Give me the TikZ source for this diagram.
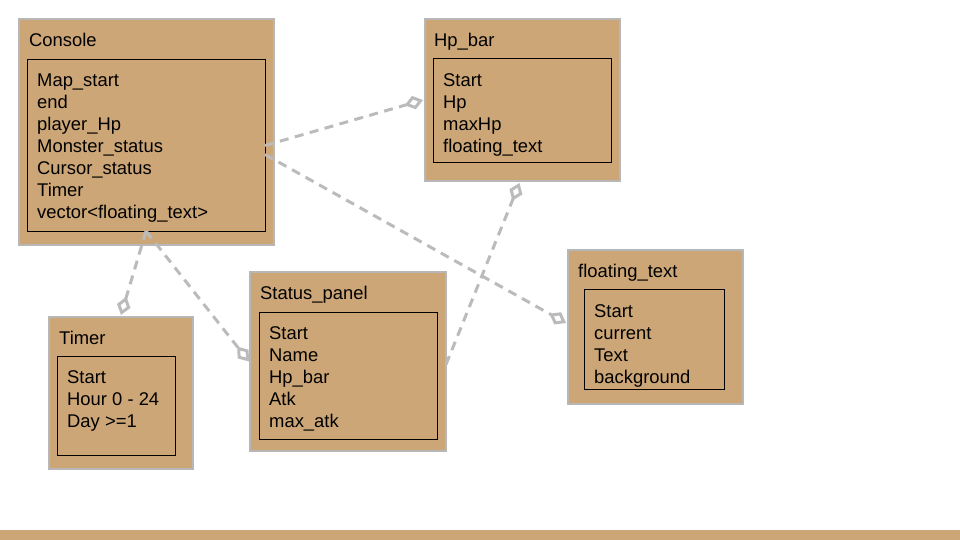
\documentclass[tikz,border=0pt]{standalone}
\usepackage{fontspec}
\setmainfont{Liberation Sans}
\usetikzlibrary{arrows.meta}
\definecolor{tan}{HTML}{CCA677}
\definecolor{bordergray}{HTML}{B7B7B7}
\definecolor{linkgray}{HTML}{BBBBBB}
\tikzset{
  outerbox/.style={draw=bordergray, line width=1.5pt, fill=tan, inner sep=0pt, outer sep=0pt},
  innerbox/.style={draw=black, line width=1pt, inner sep=0pt, outer sep=0pt},
  titletext/.style={anchor=base west, inner sep=0pt, font=\fontsize{18.4}{22}\selectfont},
  itemtext/.style={anchor=north west, inner sep=0pt, align=left, font=\fontsize{18.4}{22}\selectfont},
  link/.style={draw=linkgray, line width=3pt, dash pattern=on 9pt off 6.5pt,
    -{Diamond[open, length=19pt, width=14pt, line join=miter]}}
}
\begin{document}
\begin{tikzpicture}[x=1pt,y=-1pt]
\useasboundingbox (0,0) rectangle (960,540);
\fill[white] (0,0) rectangle (960,540);
\fill[tan] (0,529.5) rectangle (960,540);

% Console
\node[outerbox, minimum width=255pt, minimum height=226pt] (console) at (146.5,132) {};
\node[innerbox, minimum width=238pt, minimum height=171pt] (consoleIn) at (146,145.5) {};
\node[titletext] (consoleT) at (29,46.5) {Console};
\node[itemtext] (consoleL) at (37,71.1) {\strut Map\_start\\end\\player\_Hp\\Monster\_status\\Cursor\_status\\Timer\\vector<floating\_text>};

% Hp_bar
\node[outerbox, minimum width=195pt, minimum height=162pt] (hp) at (522.5,100) {};
\node[innerbox, minimum width=178pt, minimum height=104pt] (hpIn) at (522,111) {};
\node[titletext] (hpT) at (434,46.5) {Hp\_bar};
\node[itemtext] (hpL) at (443,71.1) {\strut Start\\Hp\\maxHp\\floating\_text};

% Timer
\node[outerbox, minimum width=144pt, minimum height=152pt] (timer) at (121,393) {};
\node[innerbox, minimum width=118pt, minimum height=99pt] (timerIn) at (116,405.5) {};
\node[titletext] (timerT) at (59,344.5) {Timer};
\node[itemtext] (timerL) at (67,368.1) {\strut Start\\Hour 0 - 24\\Day >=1};

% Status_panel
\node[outerbox, minimum width=196pt, minimum height=179pt] (status) at (348,361.5) {};
\node[innerbox, minimum width=178pt, minimum height=127pt] (statusIn) at (348,375.5) {};
\node[titletext] (statusT) at (260,299.5) {Status\_panel};
\node[itemtext] (statusL) at (269,324.1) {\strut Start\\Name\\Hp\_bar\\Atk\\max\_atk};

% floating_text
\node[outerbox, minimum width=175pt, minimum height=154pt] (ft) at (655.5,327) {};
\node[innerbox, minimum width=140pt, minimum height=100pt] (ftIn) at (654,339) {};
\node[titletext] (ftT) at (578,277.5) {floating\_text};
\node[itemtext] (ftL) at (594,302.1) {\strut Start\\current\\Text\\background};

% connectors
\draw[link] (consoleIn.east) -- ([xshift=-2pt]hp.west);
\draw[link] ([yshift=-9pt]consoleIn.east) -- ([xshift=-2pt,yshift=4pt]ft.west);
\draw[link] (consoleIn.south) -- ([yshift=2pt]timer.north);
\draw[link] (consoleIn.south) -- ([xshift=-1pt]status.west);
\draw[link] ([yshift=-3pt]status.east) -- ([xshift=-3pt,yshift=-2pt]hp.south);
\end{tikzpicture}
\end{document}
